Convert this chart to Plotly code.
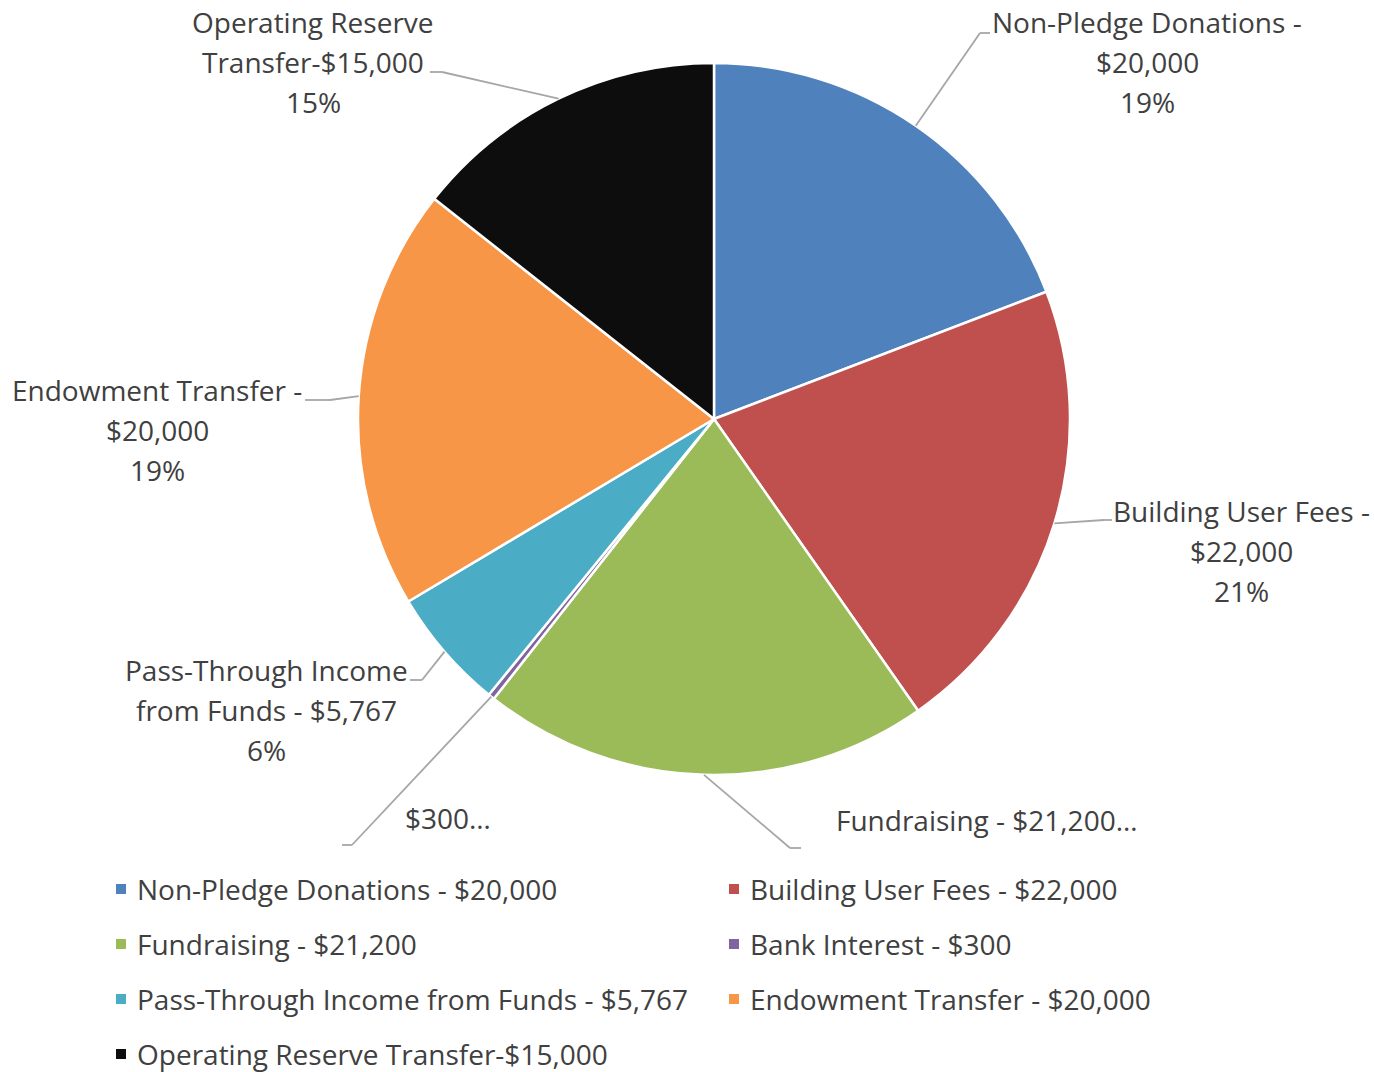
import math
import plotly.graph_objects as go

# ---------------- data ----------------
categories = [
    "Non-Pledge Donations - $20,000",
    "Building User Fees - $22,000",
    "Fundraising - $21,200",
    "Bank Interest - $300",
    "Pass-Through Income from Funds - $5,767",
    "Endowment Transfer - $20,000",
    "Operating Reserve Transfer-$15,000",
]
values = [20000, 22000, 21200, 300, 5767, 20000, 15000]
colors = ["#4F81BD", "#C0504D", "#9BBB59", "#8064A2", "#4BACC6", "#F79646", "#0D0D0D"]
label_lines = [
    ["Non-Pledge Donations -", "$20,000", "19%"],
    ["Building User Fees -", "$22,000", "21%"],
    ["Fundraising - $21,200…"],
    ["$300…"],
    ["Pass-Through Income", "from Funds - $5,767", "6%"],
    ["Endowment Transfer -", "$20,000", "19%"],
    ["Operating Reserve", "Transfer-$15,000", "15%"],
]

# ---------------- layout (pixels) ----------------
W, H = 1374, 1072
CX, CY, R = 714, 419, 356
FONT = "Open Sans"
TXT = "#404040"
FS = 28
LINE_GAP = 40
label_pos = [(1147, 22), (1241, 511), (987, 820), (448, 818), (266, 670), (157, 390), (313, 22)]
leader_pts = [
    [(980, 33), (990, 33)],
    [(1104, 520), (1112, 520)],
    [(790, 848), (801, 848)],
    [(352, 845), (342, 845)],
    [(422, 680), (410, 680)],
    [(330, 400), (305, 400)],
    [(442, 72), (430, 72)],
]
leg_sq_x = [121, 734]
leg_tx_x = [135, 748]
leg_y0, leg_dy = 889, 55


def px(x):
    return x / W


def py(y):
    return 1 - y / H


fig = go.Figure(go.Pie(
    labels=categories,
    values=values,
    sort=False,
    direction="clockwise",
    rotation=0,
    marker=dict(colors=colors, line=dict(color="white", width=2.5)),
    textinfo="none",
    hoverinfo="label+percent",
    showlegend=False,
    domain=dict(x=[px(CX - R), px(CX + R)], y=[py(CY + R), py(CY - R)]),
))

shapes = []
annotations = []
total = sum(values)
cum = 0
for i, v in enumerate(values):
    theta = 2 * math.pi * (cum + v / 2) / total
    cum += v
    sx = CX + R * math.sin(theta)
    sy = CY - R * math.cos(theta)
    pts = [(sx, sy)] + leader_pts[i]
    for (x0, y0), (x1, y1) in zip(pts[:-1], pts[1:]):
        shapes.append(dict(type="line", xref="paper", yref="paper",
                           x0=px(x0), y0=py(y0), x1=px(x1), y1=py(y1),
                           line=dict(color="#A6A6A6", width=1.8)))
    lx, ly = label_pos[i]
    for k, line in enumerate(label_lines[i]):
        annotations.append(dict(text=line, xref="paper", yref="paper",
                                x=px(lx), y=py(ly + k * LINE_GAP),
                                xanchor="center", yanchor="middle", showarrow=False,
                                font=dict(family=FONT, size=FS, color=TXT)))

# manual legend
for i, (name, col) in enumerate(zip(categories, colors)):
    row, c = divmod(i, 2)
    yy = leg_y0 + row * leg_dy
    shapes.append(dict(type="rect", xref="paper", yref="paper",
                       x0=px(leg_sq_x[c] - 5), x1=px(leg_sq_x[c] + 5),
                       y0=py(yy + 5), y1=py(yy - 5),
                       fillcolor=col, line=dict(width=0)))
    annotations.append(dict(text=name, xref="paper", yref="paper",
                            x=px(leg_tx_x[c]), y=py(yy),
                            xanchor="left", yanchor="middle", showarrow=False,
                            font=dict(family=FONT, size=FS, color=TXT)))

fig.update_layout(
    width=W, height=H,
    margin=dict(l=0, r=0, t=0, b=0),
    paper_bgcolor="white", plot_bgcolor="white",
    shapes=shapes, annotations=annotations,
    font=dict(family=FONT, color=TXT),
)

fig.write_html("out.html",
               config={"displayModeBar": False},
               post_script="document.body.style.margin='0';document.body.style.overflow='hidden';")
